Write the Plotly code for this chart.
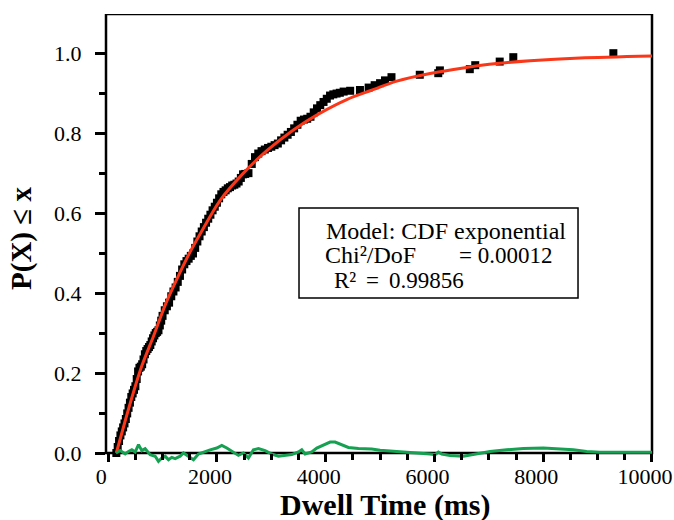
import plotly.graph_objects as go

# ---------------- data ----------------
data_x = [150, 175, 200, 225, 250, 275, 300, 325, 350, 375, 400, 425, 450, 475, 500,
          525, 550, 575, 600, 625, 650, 675, 700, 725, 750, 775, 800, 825, 850, 875,
          900, 925, 950, 975, 1000,
          1040, 1080, 1120, 1160, 1200, 1240, 1280, 1320, 1360, 1400, 1440, 1480, 1520,
          1560, 1600, 1640, 1680, 1720, 1760, 1800, 1840, 1880, 1920, 1960, 2000, 2040,
          2080, 2120, 2160, 2200, 2240, 2280, 2320, 2360, 2400, 2440, 2480, 2520,
          2580, 2640, 2700, 2760, 2820, 2880, 2940, 3000, 3060, 3120, 3180, 3240, 3300,
          3360, 3420, 3480, 3540, 3600, 3660, 3720, 3780, 3840, 3900, 3960, 4020, 4080,
          4140, 4200, 4260, 4330, 4450, 4630, 4790, 4900, 5000, 5090, 5210, 5730, 6070,
          6100, 6650, 6750, 7200, 7450, 9290]
data_y = [0.000, 0.015, 0.030, 0.044, 0.054, 0.064, 0.074, 0.085, 0.099, 0.113, 0.126,
          0.140, 0.149, 0.158, 0.167, 0.185, 0.204, 0.213, 0.216, 0.222, 0.234, 0.247,
          0.255, 0.260, 0.265, 0.270, 0.279, 0.287, 0.294, 0.300, 0.303, 0.307, 0.319,
          0.331, 0.343,
          0.357, 0.367, 0.376, 0.392, 0.404, 0.414, 0.428, 0.443, 0.459, 0.472, 0.480,
          0.486, 0.493, 0.499, 0.513, 0.529, 0.542, 0.554, 0.565, 0.576, 0.586, 0.596,
          0.607, 0.616, 0.626, 0.637, 0.647, 0.653, 0.657, 0.662, 0.665, 0.669, 0.671,
          0.674, 0.679, 0.688, 0.697, 0.698,
          0.700, 0.723, 0.740, 0.749, 0.755, 0.759, 0.763, 0.766, 0.770, 0.774, 0.782,
          0.789, 0.796, 0.803, 0.812, 0.821, 0.831, 0.834, 0.836, 0.841, 0.852, 0.862,
          0.870, 0.878, 0.886, 0.894, 0.897, 0.899, 0.901, 0.904, 0.906, 0.908, 0.914,
          0.920, 0.925, 0.932, 0.940, 0.946, 0.950, 0.957, 0.960, 0.970, 0.979, 0.990,
          1.000]

fit_x = [150, 312, 465, 619, 833, 1048, 1263, 1507, 1691, 2059, 2487, 2917, 3406,
         3897, 4388, 4816, 5307, 5919, 6531, 7145, 7757, 8676, 10000]
fit_y = [0.000, 0.080, 0.152, 0.218, 0.292, 0.370, 0.435, 0.503, 0.548, 0.632, 0.700,
         0.756, 0.808, 0.850, 0.884, 0.906, 0.930, 0.949, 0.963, 0.974, 0.981, 0.988,
         0.993]

resid_x = [141, 221, 312, 374, 435, 496, 558, 619, 680, 772, 864, 925, 987, 1048, 1109,
           1170, 1232, 1324, 1385, 1477, 1569, 1660, 1783, 1875, 1997, 2089, 2181, 2273,
           2395, 2487, 2579, 2671, 2763, 2886, 3008, 3131, 3254, 3376, 3499, 3560, 3621,
           3744, 3836, 3989, 4081, 4173, 4296, 4418, 4602, 4847, 5000, 5307, 5613, 5919,
           6011, 6072, 6134, 6287, 6532, 6777, 7022, 7329, 7635, 8002, 8309, 8554, 8799,
           9044, 9289, 10000]
resid_y = [0.000, 0.006, -0.0025, 0.004, 0.008, 0.0025, 0.021, 0.006, 0.011, -0.004,
           -0.008, -0.021, -0.0125, -0.008, -0.017, -0.011, -0.014, -0.008, 0.000, -0.008,
           -0.017, -0.0025, 0.004, 0.008, 0.0125, 0.019, 0.0125, 0.004, -0.006, 0.000,
           -0.0125, 0.008, 0.011, 0.006, -0.0025, -0.008, -0.006, -0.004, 0.0025, 0.008,
           -0.0025, 0.0025, 0.0125, 0.021, 0.0275, 0.0275, 0.021, 0.014, 0.011, 0.010,
           0.007, 0.004, 0.002, -0.0025, -0.004, 0.0025, -0.0025, -0.006, -0.008, -0.0025,
           0.004, 0.008, 0.011, 0.0125, 0.011, 0.008, 0.004, 0.002, 0.002, 0.002]

x_ticks = [0, 2000, 4000, 6000, 8000, 10000]
x_title = "Dwell Time (ms)"
y_title = "P(X) ≤ x"
info_lines = ["Model: CDF exponential", "Chi²/DoF", "= 0.00012", "R²", "=", "0.99856"]

# ---------------- figure ----------------
FONT = "Liberation Serif, Times New Roman, serif"
RED = "rgb(250,55,25)"
GREEN = "rgb(22,160,82)"

fig = go.Figure()
fig.add_trace(go.Scatter(x=data_x, y=data_y, mode="markers",
                         marker=dict(symbol="square", size=8, color="black"),
                         cliponaxis=False, showlegend=False))
fig.add_trace(go.Scatter(x=fit_x, y=fit_y, mode="lines",
                         line=dict(color=RED, width=3, shape="spline", smoothing=0.8),
                         showlegend=False))
fig.add_trace(go.Scatter(x=resid_x, y=resid_y, mode="lines",
                         line=dict(color=GREEN, width=3),
                         showlegend=False))

tickfont = dict(family=FONT, size=22, color="black")
fig.update_layout(
    width=674, height=520,
    margin=dict(l=106, r=22, t=14, b=55, autoexpand=False),
    paper_bgcolor="white", plot_bgcolor="white",
    showlegend=False,
    xaxis=dict(range=[-40, 10000.5], tickmode="array", tickvals=x_ticks,
               ticktext=[str(v) for v in x_ticks],
               ticks="outside", ticklen=8, tickwidth=2.5, tickcolor="black",
               minor=dict(tick0=0, dtick=500, ticks="outside", ticklen=6,
                          tickwidth=2.5, tickcolor="black"),
               ticklabelstandoff=-4, ticklabelshift=-7,
               ticklabeloverflow="allow", automargin=False,
               showline=False, showgrid=False, zeroline=False,
               anchor="free", position=0.03 / 1.128,
               tickfont=tickfont),
    yaxis=dict(range=[-0.03, 1.098], tick0=0, dtick=0.2, tickformat=".1f",
               ticks="outside", ticklen=10, tickwidth=2.5, tickcolor="black",
               minor=dict(tick0=0, dtick=0.1, ticks="outside", ticklen=6,
                          tickwidth=2.5, tickcolor="black"),
               ticklabelstandoff=9, automargin=False,
               showline=False, showgrid=False, zeroline=False,
               tickfont=tickfont),
)

# plot frame
fig.add_shape(type="rect", xref="paper", yref="y", x0=0, x1=1, y0=0, y1=1.098,
              line=dict(color="black", width=2.5), layer="below")
# info box
fig.add_shape(type="rect", xref="paper", yref="paper",
              x0=0.3535, x1=0.8645, y0=0.3703, y1=0.5698,
              line=dict(color="black", width=1.5), fillcolor="rgba(0,0,0,0)")

def ann(text, x, y, size=24, bold=False, angle=0, xanchor="left"):
    t = f"<b>{text}</b>" if bold else text
    fig.add_annotation(text=t, x=x, y=y, xref="paper", yref="paper",
                       showarrow=False, xanchor=xanchor, yanchor="middle",
                       textangle=angle,
                       font=dict(family=FONT, size=size, color="black"))

ann(info_lines[0], 0.3993, 0.5188)
ann(info_lines[1], 0.3975, 0.4656, size=24)
ann(info_lines[2], 0.6430, 0.4656, size=23)
ann(info_lines[3], 0.4140, 0.4080, size=23)
ann(info_lines[4], 0.4726, 0.4080, size=23)
ann(info_lines[5], 0.5146, 0.4080, size=23)

ann(x_title, 0.511, -0.0887, size=30, bold=True, xanchor="center")
ann(y_title, -0.156, 0.503, size=29, bold=True, angle=-90, xanchor="center")

fig.write_html("out.html")
